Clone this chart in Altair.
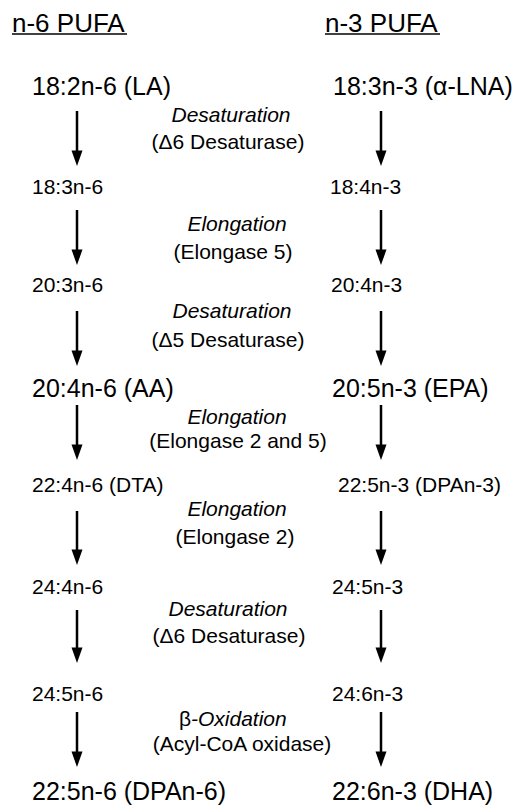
import altair as alt
import pandas as pd

# ---- diagram content ----
titles = ["n-6 PUFA", "n-3 PUFA"]
title_x = [12, 325]
title_y = 24
title_underline_end = [127, 440]
title_underline_y = 34

left_nodes = ["18:2n-6 (LA)", "18:3n-6", "20:3n-6", "20:4n-6 (AA)",
              "22:4n-6 (DTA)", "24:4n-6", "24:5n-6", "22:5n-6 (DPAn-6)"]
right_nodes = ["18:3n-3 (\u03b1-LNA)", "18:4n-3", "20:4n-3", "20:5n-3 (EPA)",
               "22:5n-3 (DPAn-3)", "24:5n-3", "24:6n-3", "22:6n-3 (DHA)"]
node_big = [True, False, False, True, False, False, False, True]
row_y = [87, 188, 286, 389, 486, 588, 695, 792]
left_x = [32, 32, 32, 32, 32, 32, 32, 32]
right_x = [333, 330, 331, 332, 338, 332, 332, 332]

step_top = ["Desaturation", "Elongation", "Desaturation", "Elongation",
            "Elongation", "Desaturation", "-Oxidation"]
step_top_prefix = ["", "", "", "", "", "", "\u03b2"]
step_bottom = ["(\u03946 Desaturase)", "(Elongase 5)", "(\u03945 Desaturase)",
               "(Elongase 2 and 5)", "(Elongase 2)", "(\u03946 Desaturase)",
               "(Acyl-CoA oxidase)"]
step_top_y = [116, 225, 312, 418, 510, 610, 720]
step_bottom_y = [143, 253, 341, 442, 538, 637, 745]
step_top_x = [231, 237, 232, 237, 237, 228, 237]
step_bottom_x = [228, 233, 228, 238, 235, 229, 242]

arrow_cols_x = [77, 381]
arrow_top = [111, 210, 311, 405, 511, 610, 712]
arrow_tip = [166, 265, 366, 460, 565, 663, 767]

FONT = "Liberation Sans"
BIG, SMALL, STEP, TITLE = 25, 21, 21, 26
HEAD_LEN = 14

# ---- tables ----
nodes = pd.DataFrame({
    "text": left_nodes + right_nodes,
    "x": left_x + right_x,
    "y": row_y + row_y,
    "fs": [BIG if b else SMALL for b in node_big] * 2,
})
titles_df = pd.DataFrame({"text": titles, "x": title_x, "y": [title_y] * 2})
underline_df = pd.DataFrame({"x": title_x, "x2": title_underline_end,
                             "y": [title_underline_y] * 2})

top_plain = pd.DataFrame([
    {"text": t, "x": x, "y": y}
    for t, p, x, y in zip(step_top, step_top_prefix, step_top_x, step_top_y) if not p
])
top_split = pd.DataFrame([
    {"prefix": p, "text": t, "x": x - 46, "y": y}
    for t, p, x, y in zip(step_top, step_top_prefix, step_top_x, step_top_y) if p
])
bottom_df = pd.DataFrame({"text": step_bottom, "x": step_bottom_x, "y": step_bottom_y})

arrows = pd.DataFrame([
    {"x": cx, "y": t, "y2": tip - HEAD_LEN + 2, "tip": tip}
    for cx in arrow_cols_x for t, tip in zip(arrow_top, arrow_tip)
])

W, H = 511, 790
xs = alt.Scale(domain=[8, 8 + W])
ys = alt.Scale(domain=[8, 8 + H], reverse=True)
X = lambda f="x": alt.X(f"{f}:Q", scale=xs, axis=None)
Y = lambda f="y": alt.Y(f"{f}:Q", scale=ys, axis=None)

title_layer = alt.Chart(titles_df).mark_text(
    font=FONT, fontSize=TITLE, align="left", baseline="middle", color="black"
).encode(x=X(), y=Y(), text="text:N")

underline_layer = alt.Chart(underline_df).mark_rule(
    color="black", strokeWidth=1.5
).encode(x=X(), x2="x2:Q", y=Y())

node_layer = alt.Chart(nodes).mark_text(
    font=FONT, align="left", baseline="middle", color="black"
).encode(x=X(), y=Y(), text="text:N", size=alt.Size("fs:Q", scale=None, legend=None))

top_layer = alt.Chart(top_plain).mark_text(
    font=FONT, fontSize=STEP, fontStyle="italic", align="center",
    baseline="middle", color="black"
).encode(x=X(), y=Y(), text="text:N")

split_prefix = alt.Chart(top_split).mark_text(
    font=FONT, fontSize=STEP, align="right", baseline="middle", color="black"
).encode(x=X(), y=Y(), text="prefix:N")

split_text = alt.Chart(top_split).mark_text(
    font=FONT, fontSize=STEP, fontStyle="italic", align="left",
    baseline="middle", color="black"
).encode(x=X(), y=Y(), text="text:N")

bottom_layer = alt.Chart(bottom_df).mark_text(
    font=FONT, fontSize=STEP, align="center", baseline="middle", color="black"
).encode(x=X(), y=Y(), text="text:N")

shaft_layer = alt.Chart(arrows).mark_rule(
    color="black", strokeWidth=2.5
).encode(x=X(), y=Y(), y2="y2:Q")

head_layer = alt.Chart(arrows).mark_point(
    shape="M-1,-2.8L1,-2.8L0,0Z", filled=True, size=121,
    color="black", opacity=1, strokeWidth=0
).encode(x=X(), y=Y("tip"))

chart = alt.layer(
    underline_layer, title_layer, node_layer, top_layer, split_prefix,
    split_text, bottom_layer, shaft_layer, head_layer
).properties(
    width=W, height=H, padding=0, background="white"
).configure_view(stroke=None)

chart.save("out.html", embed_options={"renderer": "svg", "actions": False})
